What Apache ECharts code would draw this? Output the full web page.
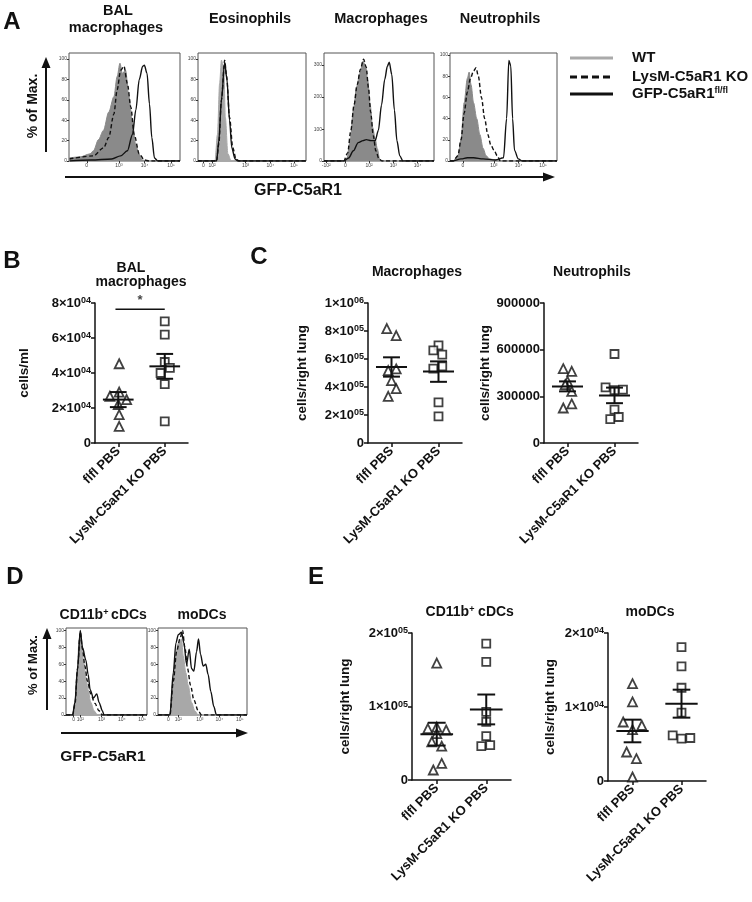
<!DOCTYPE html>
<html>
<head>
<meta charset="utf-8">
<script src="https://cdn.jsdelivr.net/npm/echarts@6/dist/echarts.min.js"></script>
<style>
html,body{margin:0;padding:0;background:#fff;}
#fig{width:752px;height:902px;}
</style>
</head>
<body>
<div id="fig"></div>
<script>
var F = '"Liberation Sans", Arial, sans-serif';
var groups = ['flfl PBS', 'LysM-C5aR1 KO PBS'];

// A: GFP histograms, [position on GFP axis (0-100), % of max]
var balWT = [[0,3],[9.8,4],[19,7],[22,10],[26.6,21],[31,30],[35.8,48],[40.4,63],[43.4,83],[45.9,96],[48,86],[51,89],[54,63],[57,40],[60,17],[63,7],[66,1],[71,0],[100,0]];
var balKO = [[0.6,2],[22,5],[31.2,13],[35.8,23],[40.4,46],[43.4,70],[46.5,89],[49.5,93],[52.6,76],[55.7,53],[58.7,26],[63.3,7],[67.9,1],[72,0],[100,0]];
var balFL = [[0.6,0],[20,1],[38.5,2],[46.5,5],[52.6,10],[57.2,26],[60.2,50],[63.3,80],[66.4,93],[67.9,94],[70.3,86],[72.5,56],[74.6,23],[77,3],[80,0],[100,0]];
var eosWT = [[0,0],[15.7,0],[18,26],[20,76],[21.7,99],[24,89],[25.3,43],[27.7,7],[30.7,0],[100,0]];
var eosKO = [[0,0],[17.2,0],[19.3,17],[21.7,60],[24.7,99],[26.5,83],[29.2,43],[32.2,13],[35.2,2],[38,0],[100,0]];
var eosFL = [[0,0],[17.2,0],[19.3,20],[21.7,60],[24.7,97],[26.8,80],[29.2,40],[31.3,13],[34.3,2],[37,0],[100,0]];
var macWT = [[0,0],[18,0],[20.9,3],[23.8,20],[26.7,50],[29.7,73],[32.6,86],[35.5,98],[37.8,93],[39.8,79],[41.9,56],[44.2,33],[46.5,22],[48.5,12],[50.6,2],[52.9,0],[100,0]];
var macKO = [[0,0],[18,0],[21.5,8],[24.4,30],[27.3,55],[30.2,75],[33.1,90],[36,100],[38.4,92],[40.4,72],[42.4,48],[44.8,25],[47.1,10],[50,2],[52.9,0],[100,0]];
var macFL = [[0,0],[18,0],[22.4,3],[26.7,10],[31.1,18],[35.5,20],[38.4,21],[42.7,20],[46.5,20],[49.4,30],[52.3,55],[55.2,80],[57.6,93],[59.3,97],[61.6,85],[64,50],[66.3,20],[68.9,5],[71.8,0],[100,0]];
var neuWT = [[0,0],[2.9,0],[7.4,5],[10.3,20],[13.2,55],[16.2,78],[17.9,84],[19.7,72],[22,55],[25,40],[27.9,25],[30.9,12],[33.8,5],[36.8,2],[42.6,1],[48.5,0],[100,0]];
var neuKO = [[0,0],[2.9,0],[7.4,5],[10.3,20],[13.2,45],[16.2,65],[19.1,78],[22,85],[24.4,88],[26.5,80],[29.4,60],[32.4,40],[35.3,25],[38.2,15],[41.2,10],[44.1,5],[47.1,0],[100,0]];
var neuFL = [[0,0],[2.9,0],[10.3,2],[16.2,3],[22,3],[30.9,2],[42.6,1],[50,3],[52.9,40],[55,95],[56.8,90],[58.5,40],[60.3,10],[63.8,2],[67.6,0],[100,0]];
// D: GFP histograms for DC subsets
var cdcWT = [[0,0],[8.2,0],[11,15],[13.5,50],[16.3,90],[17.6,99],[19.2,85],[21.6,65],[24.5,45],[27.3,30],[30.6,15],[34.7,5],[38.8,0],[100,0]];
var cdcKO = [[0,0],[8.2,0],[11,12],[14.3,55],[17.6,98],[20.4,78],[23.3,58],[26.5,40],[30.6,25],[35.5,14],[40.8,5],[44.9,0],[100,0]];
var cdcFL = [[0,0],[8.2,0],[11,15],[14.3,55],[17.6,100],[20.4,80],[24.5,65],[27.3,48],[29.8,30],[33.9,20],[38,25],[40.8,15],[44.9,5],[46.9,0],[100,0]];
var modWT = [[0,0],[13.4,0],[16.4,30],[19,65],[22.8,85],[26.5,90],[28.4,70],[31.3,50],[34,35],[37.7,15],[41.4,5],[45.1,0],[100,0]];
var modKO = [[0,0],[13.4,0],[17.2,40],[20.9,75],[24.6,90],[27.6,100],[30.2,80],[33.2,55],[36.6,35],[40.3,18],[45.1,5],[48.9,0],[100,0]];
var modFL = [[0,0],[13.4,0],[17.2,50],[20.1,85],[22.8,95],[26.5,98],[29.1,85],[32.1,60],[35.1,78],[37.7,55],[40.3,52],[43.3,75],[45.5,90],[47.8,72],[50.7,58],[53.7,60],[56.3,48],[59.3,28],[62.7,10],[65.7,0],[100,0]];

// histogram tick positions / labels
var balTicks = [16,45,68,92], balTickLabels = ['0','10³','10⁴','10⁵'];
var eosTicks = [5,13,44,67,89], eosTickLabels = ['0','10²','10³','10⁴','10⁵'];
var macTicks = [2,19.5,41,63,85], macTickLabels = ['-10²','0','10²','10³','10⁴'];
var neuTicks = [12,41,64,87], neuTickLabels = ['0','10³','10⁴','10⁵'];
var cdcTicks = [9.5,17.7,44,69,94], cdcTickLabels = ['0','10²','10³','10⁴','10⁵'];
var modTicks = [11.6,22.8,47,69,92], modTickLabels = ['0','10²','10³','10⁴','10⁵'];
var pctTicks = [0,20,40,60,80,100], pctTickLabels = ['0','20','40','60','80','100'];
var cntTicks = [0,30.8,62.9,94.4], cntTickLabels = ['0','100','200','300'];

// B: BAL macrophages, cells/ml  [horizontal jitter, value]
var balFl = [[0.02,45300],[0.02,29100],[-0.18,26700],[0,22000],[0.18,24800],[0.02,16200],[0.02,9500]];
var balKo = [[0,69500],[0,61900],[0,46300],[0.11,42900],[-0.09,40000],[0,33700],[0,12400]];
var balMean = [24800, 43800], balSem = [4300, 7100];
// C: lung macrophages / neutrophils, cells/right lung
var macFl = [[-0.1,817000],[0.1,767000],[-0.07,517000],[0.1,529000],[0,445000],[0.1,388000],[-0.07,333000]];
var macKo = [[0,698000],[-0.11,662000],[0.08,631000],[-0.11,531000],[0.08,548000],[0,290000],[0,190000]];
var macMean = [543000, 510000], macSem = [69000, 73000];
var neuFl = [[-0.09,478000],[0.09,461000],[0,396000],[-0.05,375000],[0.09,332000],[-0.09,225000],[0.09,251000]];
var neuKo = [[0,572000],[-0.19,358000],[0,339000],[0.18,343000],[0,214000],[-0.09,154000],[0.09,167000]];
var neuMean = [364000, 306000], neuSem = [32000, 50000];
// E: CD11b+ cDCs / moDCs, cells/right lung
var cdcFl = [[0,159000],[-0.18,70000],[0,72000],[0.19,68000],[0,63000],[-0.1,52000],[0.1,46000],[0.1,22600],[-0.07,13600]];
var cdcKo = [[0,185500],[0,160600],[0,92800],[0,79200],[0,59700],[-0.1,46200],[0.08,47500]];
var cdcMean = [62400, 96000], cdcSem = [15500, 20300];
var modFl = [[0,13150],[0,10680],[-0.19,7970],[0.19,7520],[0,6940],[-0.12,3920],[0.08,3020],[0,540]];
var modKo = [[0,18100],[0,15500],[0,12600],[0,9230],[-0.18,6170],[0,5720],[0.18,5810]];
var modMean = [6760, 10450], modSem = [1530, 1890];

var grids = [
	{left:69, top:53, width:111, height:108},
	{left:198, top:53, width:108, height:108},
	{left:324, top:53, width:110, height:108},
	{left:450, top:53, width:107, height:108},
	{left:66, top:628, width:81, height:87},
	{left:158, top:628, width:89, height:87},
	{left:95, top:303, width:93, height:140},
	{left:368, top:303, width:94, height:140},
	{left:544, top:303, width:94, height:140},
	{left:412, top:633, width:99, height:147},
	{left:608, top:633, width:98, height:148}
];

var hists = [
	{wt:balWT, ko:balKO, fl:balFL, fill:'#8a8a8a', xt:balTicks, xl:balTickLabels, yt:pctTicks, yl:pctTickLabels, ymax:106},
	{wt:eosWT, ko:eosKO, fl:eosFL, fill:'#a8a8a8', xt:eosTicks, xl:eosTickLabels, yt:pctTicks, yl:pctTickLabels, ymax:106},
	{wt:macWT, ko:macKO, fl:macFL, fill:'#8a8a8a', xt:macTicks, xl:macTickLabels, yt:cntTicks, yl:cntTickLabels, ymax:106},
	{wt:neuWT, ko:neuKO, fl:neuFL, fill:'#8a8a8a', xt:neuTicks, xl:neuTickLabels, yt:pctTicks, yl:pctTickLabels, ymax:102},
	{wt:cdcWT, ko:cdcKO, fl:cdcFL, fill:'#a8a8a8', xt:cdcTicks, xl:cdcTickLabels, yt:pctTicks, yl:pctTickLabels, ymax:103},
	{wt:modWT, ko:modKO, fl:modFL, fill:'#a8a8a8', xt:modTicks, xl:modTickLabels, yt:pctTicks, yl:pctTickLabels, ymax:103}
];

var dots = [
	{fl:balFl, ko:balKo, mean:balMean, sem:balSem, max:80000, step:20000, sci:true, name:'cells/ml', gap:64},
	{fl:macFl, ko:macKo, mean:macMean, sem:macSem, max:1000000, step:200000, sci:true, name:'cells/right lung', gap:59},
	{fl:neuFl, ko:neuKo, mean:neuMean, sem:neuSem, max:900000, step:300000, sci:false, name:'cells/right lung', gap:48},
	{fl:cdcFl, ko:cdcKo, mean:cdcMean, sem:cdcSem, max:200000, step:100000, sci:true, name:'cells/right lung', gap:60},
	{fl:modFl, ko:modKo, mean:modMean, sem:modSem, max:20000, step:10000, sci:true, name:'cells/right lung', gap:51}
];

function extend(t) {
	for (var a = 1; a < arguments.length; a++) for (var k in arguments[a]) t[k] = arguments[a][k];
	return t;
}
function pick(ticks, labels) {
	return function(v) {
		for (var k = 0; k < ticks.length; k++) {
			if (Math.abs(ticks[k] - v) < 1e-6) return labels[k];
		}
		return '';
	};
}
function sciLabel(v) {
	if (v === 0) return '{m|0}';
	var e = Math.floor(Math.log10(v) + 1e-9);
	var m = Math.round(v / Math.pow(10, e));
	return '{m|' + m + '×10}{s|' + (e < 10 ? '0' + e : e) + '}';
}
function plainLabel(v) { return '{m|' + v + '}'; }

var option = {
	backgroundColor: '#fff',
	animation: false,
	grid: [],
	xAxis: [],
	yAxis: [],
	series: [],
	graphic: []
};

grids.forEach(function(g, i) {
	option.grid.push({left:g.left, top:g.top, width:g.width, height:g.height,
		show:i < 6, borderColor:'#555', borderWidth:1, containLabel:false});
});

// histograms (panels A and D)
hists.forEach(function(h, i) {
	option.xAxis.push({gridIndex:i, type:'value', min:0, max:100,
		axisLine:{show:false}, splitLine:{show:false},
		axisTick:{show:true, customValues:h.xt, length:2, lineStyle:{color:'#333'}},
		axisLabel:{show:true, customValues:h.xt, formatter:pick(h.xt, h.xl), fontSize:5, color:'#444', margin:2, fontFamily:F}});
	option.yAxis.push({gridIndex:i, type:'value', min:0, max:h.ymax,
		axisLine:{show:false}, splitLine:{show:false},
		axisTick:{show:true, customValues:h.yt, length:2, lineStyle:{color:'#333'}},
		axisLabel:{show:true, customValues:h.yt, formatter:pick(h.yt, h.yl), fontSize:5, color:'#444', margin:2, fontFamily:F}});
	var base = {type:'line', xAxisIndex:i, yAxisIndex:i, symbol:'none', smooth:0.3, smoothMonotone:'x', silent:true};
	option.series.push(extend({}, base, {data:h.wt, z:2, lineStyle:{color:h.fill, width:1}, areaStyle:{color:h.fill, opacity:1}}));
	option.series.push(extend({}, base, {data:h.ko, z:3, lineStyle:{color:'#111', width:1.4, type:[4,2.5]}}));
	option.series.push(extend({}, base, {data:h.fl, z:4, lineStyle:{color:'#111', width:1.4}}));
});

// dot plots (panels B, C, E)
var axisStyle = {color:'#111', width:1.5};
var richLab = {
	m:{fontSize:13, fontWeight:'bold', fontFamily:F, color:'#111', verticalAlign:'bottom'},
	s:{fontSize:9, fontWeight:'bold', fontFamily:F, color:'#111', verticalAlign:'top'}
};
dots.forEach(function(d, j) {
	var i = j + 6;
	option.xAxis.push({gridIndex:i, type:'value', min:-0.5, max:1.5,
		axisLine:{show:true, onZero:false, lineStyle:axisStyle}, splitLine:{show:false},
		axisTick:{show:true, customValues:[0,1], length:4, lineStyle:axisStyle},
		axisLabel:{show:true, customValues:[0,1], rotate:45, margin:6,
			formatter:function(v){ return groups[Math.round(v)]; },
			fontSize:13, fontWeight:'bold', fontFamily:F, color:'#111'}});
	option.yAxis.push({gridIndex:i, type:'value', min:0, max:d.max, interval:d.step,
		axisLine:{show:true, onZero:false, lineStyle:axisStyle}, splitLine:{show:false},
		axisTick:{show:true, length:4, lineStyle:axisStyle},
		axisLabel:{show:true, margin:4, formatter:d.sci ? sciLabel : plainLabel, rich:richLab},
		name:d.name, nameLocation:'middle', nameGap:d.gap,
		nameTextStyle:{fontSize:13.5, fontWeight:'bold', fontFamily:F, color:'#111'}});
	var pts = {type:'scatter', xAxisIndex:i, yAxisIndex:i, z:2, silent:true,
		itemStyle:{color:'#fff', borderColor:'#111', borderWidth:1.8}};
	option.series.push(extend({}, pts, {symbol:'triangle', symbolSize:9,
		data:d.fl.map(function(p){ return [0 + p[0], p[1]]; })}));
	option.series.push(extend({}, pts, {symbol:'rect', symbolSize:8,
		data:d.ko.map(function(p){ return [1 + p[0], p[1]]; })}));
	option.series.push({type:'custom', xAxisIndex:i, yAxisIndex:i, z:3, silent:true,
		data:d.mean.map(function(m, g){ return [g, m, d.sem[g]]; }),
		renderItem:function(params, api) {
			var g = api.value(0), m = api.value(1), s = api.value(2);
			function seg(x1, y1, x2, y2) {
				var a = api.coord([x1, y1]), b = api.coord([x2, y2]);
				return {type:'line', shape:{x1:a[0], y1:a[1], x2:b[0], y2:b[1]}, style:{stroke:'#111', lineWidth:2}};
			}
			return {type:'group', children:[
				seg(g - 0.33, m, g + 0.33, m),
				seg(g - 0.18, m + s, g + 0.18, m + s),
				seg(g - 0.18, m - s, g + 0.18, m - s),
				seg(g, m - s, g, m + s)
			]};
		}});
});

// significance bar in B
option.series.push({type:'line', xAxisIndex:6, yAxisIndex:6, symbol:'none', silent:true, clip:false,
	data:[[-0.06, 76500], [1.0, 76500]], lineStyle:{color:'#111', width:1.5}});
option.series.push({type:'scatter', xAxisIndex:6, yAxisIndex:6, symbolSize:0, silent:true, clip:false,
	data:[[0.47, 76500]], label:{show:true, position:'top', distance:2, formatter:'*',
	fontSize:13, fontWeight:'bold', fontFamily:F, color:'#111'}});

// text, arrows, legend
function txt(s, x, y, size, extra) {
	return extend({type:'text', x:x, y:y, silent:true,
		style:{text:s, font:'bold ' + size + 'px ' + F, fill:'#111', align:'center', verticalAlign:'middle'}}, extra || {});
}
function supTxt(a, b, x, y, size, align) {
	return {type:'text', x:x, y:y, silent:true,
		style:{text:'{a|' + a + '}{b|' + b + '}', align:align || 'center', verticalAlign:'middle',
			rich:{a:{fontSize:size, fontWeight:'bold', fontFamily:F, fill:'#111', verticalAlign:'bottom'},
				b:{fontSize:Math.round(size * 0.62), fontWeight:'bold', fontFamily:F, fill:'#111', verticalAlign:'top'}}}};
}
function line(x1, y1, x2, y2, w, c, dash) {
	return {type:'line', silent:true, shape:{x1:x1, y1:y1, x2:x2, y2:y2},
		style:{stroke:c || '#111', lineWidth:w, lineDash:dash || null}};
}
function head(pts) {
	return {type:'polygon', silent:true, shape:{points:pts}, style:{fill:'#111'}};
}
var gr = option.graphic;
gr.push(txt('A', 12, 22, 24), txt('B', 12, 261, 24), txt('C', 259, 257, 24), txt('D', 15, 577, 24), txt('E', 316, 577, 24));
gr.push(txt('BAL', 118, 11, 14.5), txt('macrophages', 116, 28, 14.5), txt('Eosinophils', 250, 19, 14.5),
	txt('Macrophages', 381, 19, 14.5), txt('Neutrophils', 500, 19, 14.5));
gr.push(line(570, 58, 613, 58, 3, '#aaa'), line(570, 77, 613, 77, 3, '#111', [7, 4]), line(570, 94, 613, 94, 3, '#111'));
gr.push(txt('WT', 632, 58, 15, {style:{text:'WT', font:'bold 15px ' + F, fill:'#111', align:'left', verticalAlign:'middle'}}));
gr.push(txt('', 632, 77, 15, {style:{text:'LysM-C5aR1 KO', font:'bold 15px ' + F, fill:'#111', align:'left', verticalAlign:'middle'}}));
gr.push(supTxt('GFP-C5aR1', 'fl/fl', 632, 94, 15, 'left'));
gr.push(txt('% of Max.', 33, 106, 14, {rotation:Math.PI / 2}));
gr.push(line(46, 152, 46, 66, 2), head([[41.5, 68], [50.5, 68], [46, 57]]));
gr.push(line(65, 177, 545, 177, 2), head([[543, 172.5], [543, 181.5], [555, 177]]));
gr.push(txt('GFP-C5aR1', 298, 191, 16));
gr.push(txt('BAL', 131, 268, 14), txt('macrophages', 141, 282, 14));
gr.push(txt('Macrophages', 417, 272, 14), txt('Neutrophils', 592, 272, 14));
gr.push(supTxt('CD11b', '+', 84, 615, 14), txt('cDCs', 129, 615, 14), txt('moDCs', 202, 615, 14));
gr.push(txt('% of Max.', 33, 665, 13, {rotation:Math.PI / 2}));
gr.push(line(47, 710, 47, 637, 2), head([[42.5, 639], [51.5, 639], [47, 628]]));
gr.push(line(61, 733, 238, 733, 2), head([[236, 728.5], [236, 737.5], [248, 733]]));
gr.push(txt('GFP-C5aR1', 103, 757, 15.5));
gr.push(supTxt('CD11b', '+', 450, 612, 14), txt('cDCs', 496, 612, 14), txt('moDCs', 650, 612, 14));

var chart = echarts.init(document.getElementById('fig'));
chart.setOption(option);
</script>
</body>
</html>
